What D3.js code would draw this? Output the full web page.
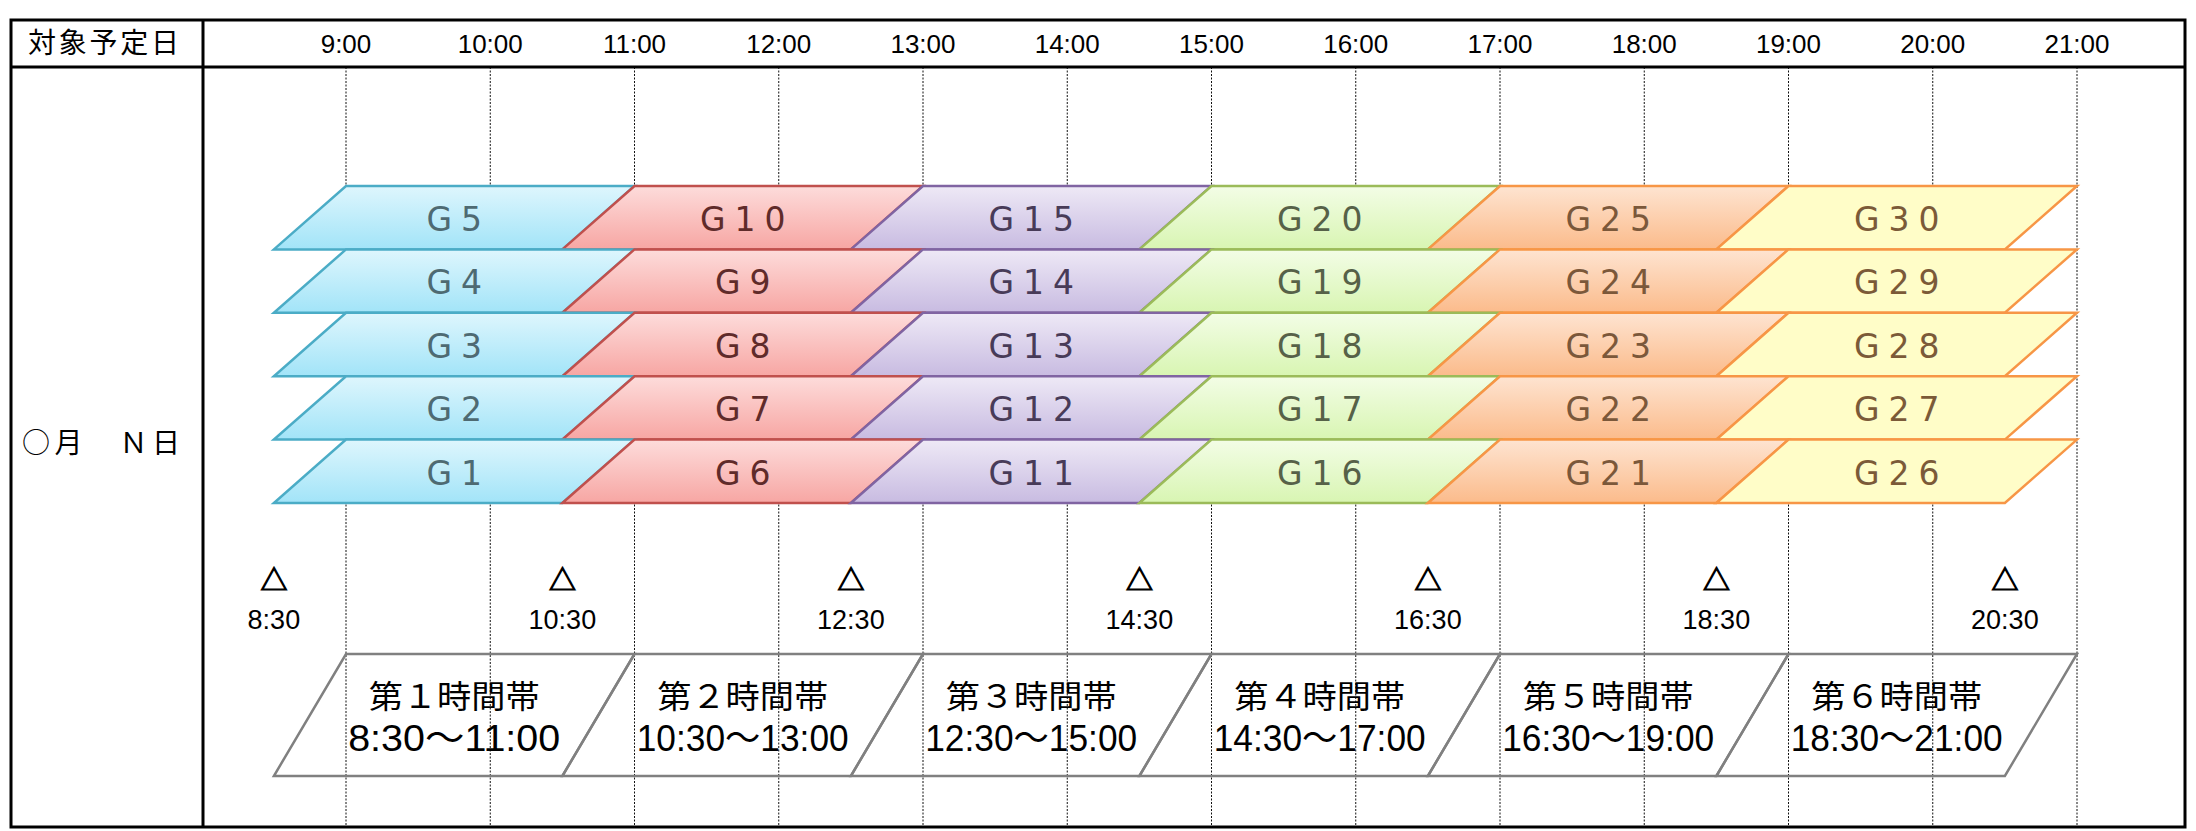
<!DOCTYPE html>
<html>
<head>
<meta charset="utf-8">
<script src="https://cdn.jsdelivr.net/npm/d3@7"></script>
<style>
  body { margin: 0; background: #fff; }
  svg { display: block; }
</style>
</head>
<body>
<div id="chart"></div>
<script>
// data
const hourTicks = [9, 10, 11, 12, 13, 14, 15, 16, 17, 18, 19, 20, 21]
const hourLabels = ["9:00", "10:00", "11:00", "12:00", "13:00", "14:00", "15:00", "16:00", "17:00", "18:00", "19:00", "20:00", "21:00"]
const slotStart = [8.5, 10.5, 12.5, 14.5, 16.5, 18.5]
const slotEnd = [11, 13, 15, 17, 19, 21]
const slotTitles = ["第１時間帯", "第２時間帯", "第３時間帯", "第４時間帯", "第５時間帯", "第６時間帯"]
const slotRanges = ["8:30～11:00", "10:30～13:00", "12:30～15:00", "14:30～17:00", "16:30～19:00", "18:30～21:00"]
const markTimes = [8.5, 10.5, 12.5, 14.5, 16.5, 18.5, 20.5]
const markLabels = ["8:30", "10:30", "12:30", "14:30", "16:30", "18:30", "20:30"]
const rows = [5, 4, 3, 2, 1]
const groupLabels = [
  ["G1", "G2", "G3", "G4", "G5"],
  ["G6", "G7", "G8", "G9", "G10"],
  ["G11", "G12", "G13", "G14", "G15"],
  ["G16", "G17", "G18", "G19", "G20"],
  ["G21", "G22", "G23", "G24", "G25"],
  ["G26", "G27", "G28", "G29", "G30"]
]
const headerText = "対象予定日"
const dateText = "○月　Ｎ日"

// styles for each slot
const palette = [
  {top: "#def6fd", bottom: "#a2e4f8", stroke: "#4bacc6", text: "#4e6a72"},
  {top: "#fddcdb", bottom: "#f7a6a3", stroke: "#c0504d", text: "#5f2b2a"},
  {top: "#eee9f6", bottom: "#c8bbe1", stroke: "#8064a2", text: "#483b58"},
  {top: "#f3fde6", bottom: "#d8f5b2", stroke: "#9bbb59", text: "#566148"},
  {top: "#fee4d1", bottom: "#fbbb8b", stroke: "#f79646", text: "#7b583a"},
  {top: "#fffdc8", bottom: "#fffdc8", stroke: "#f79646", text: "#7b5a38"}
]

const width = 2196
const height = 831
const frame = {left: 11, right: 2185, top: 20, bottom: 827}
const colX = 203
const headY = 67

const x = d3.scaleLinear().domain([9, 21]).range([346, 2077])
const y = d3.scaleBand().domain(rows).range([186, 503])
const bandTop = 654
const bandBottom = 776

const svg = d3.select("#chart").append("svg")
  .attr("width", width)
  .attr("height", height)

const defs = svg.append("defs")
palette.forEach((p, i) => {
  const g = defs.append("linearGradient")
    .attr("id", "grad" + i)
    .attr("x1", 0).attr("y1", 0).attr("x2", 0).attr("y2", 1)
  g.append("stop").attr("offset", "0%").attr("stop-color", p.top)
  g.append("stop").attr("offset", "100%").attr("stop-color", p.bottom)
})

// dotted hour lines
svg.append("g")
  .selectAll("line")
  .data(hourTicks)
  .join("line")
  .attr("x1", d => x(d)).attr("x2", d => x(d))
  .attr("y1", headY).attr("y2", frame.bottom)
  .attr("stroke", "#111")
  .attr("stroke-width", 1)
  .attr("stroke-dasharray", "2,1.5")

// hour labels
svg.append("g")
  .selectAll("text")
  .data(hourTicks)
  .join("text")
  .attr("x", d => x(d))
  .attr("y", 53)
  .attr("text-anchor", "middle")
  .attr("font-family", "Liberation Sans, Arial, sans-serif")
  .attr("font-size", 26)
  .text((d, i) => hourLabels[i])

function para(s, e, y0, y1) {
  return `M${x(s)},${y1} L${x(e - 0.5)},${y1} L${x(e)},${y0} L${x(s + 0.5)},${y0} Z`
}

// group parallelograms, top row first
const cells = []
rows.forEach(r => {
  slotStart.forEach((s, i) => {
    cells.push({slot: i, row: r, start: s, end: slotEnd[i], label: groupLabels[i][r - 1]})
  })
})

const cell = svg.append("g")
  .selectAll("g")
  .data(cells)
  .join("g")

cell.append("path")
  .attr("d", d => para(d.start, d.end, y(d.row), y(d.row) + y.bandwidth()))
  .attr("fill", d => `url(#grad${d.slot})`)
  .attr("stroke", d => palette[d.slot].stroke)
  .attr("stroke-width", 2.5)
  .attr("stroke-linejoin", "miter")

const ls = 9
cell.append("text")
  .attr("x", d => x(d.start + 1.25) + ls / 2)
  .attr("y", d => y(d.row) + 45)
  .attr("text-anchor", "middle")
  .attr("font-family", "DejaVu Sans, Verdana, sans-serif")
  .attr("font-size", 33)
  .attr("letter-spacing", ls)
  .attr("fill", d => palette[d.slot].text)
  .text(d => d.label)

// start marks
const mark = svg.append("g")
  .selectAll("g")
  .data(markTimes)
  .join("g")
mark.append("text")
  .attr("x", d => x(d))
  .attr("y", 590)
  .attr("text-anchor", "middle")
  .attr("font-family", "Noto Sans CJK JP, sans-serif")
  .attr("font-size", 27)
  .attr("stroke", "#000")
  .attr("stroke-width", 1.2)
  .text("△")
mark.append("text")
  .attr("x", d => x(d))
  .attr("y", 629)
  .attr("text-anchor", "middle")
  .attr("font-family", "Liberation Sans, Arial, sans-serif")
  .attr("font-size", 27)
  .text((d, i) => markLabels[i])

// time bands
const band = svg.append("g")
  .selectAll("g")
  .data(slotStart)
  .join("g")
band.append("path")
  .attr("d", (d, i) => para(d, slotEnd[i], bandTop, bandBottom))
  .attr("fill", "none")
  .attr("stroke", "#808080")
  .attr("stroke-width", 2.5)
band.append("text")
  .attr("x", d => x(d + 1.25))
  .attr("y", 708)
  .attr("text-anchor", "middle")
  .attr("font-family", "Noto Sans CJK JP, sans-serif")
  .attr("font-size", 32)
  .attr("textLength", 171)
  .attr("lengthAdjust", "spacingAndGlyphs")
  .text((d, i) => slotTitles[i])
band.append("text")
  .attr("x", d => x(d + 1.25))
  .attr("y", 751)
  .attr("text-anchor", "middle")
  .attr("font-family", "Liberation Sans, Arial, Noto Sans CJK JP, sans-serif")
  .attr("font-size", 36)
  .attr("textLength", 212)
  .attr("lengthAdjust", "spacingAndGlyphs")
  .text((d, i) => slotRanges[i])

// left column texts
svg.append("text")
  .attr("x", 28)
  .attr("y", 53)
  .attr("font-family", "Noto Sans CJK JP, sans-serif")
  .attr("font-size", 28)
  .attr("textLength", 151)
  .attr("lengthAdjust", "spacing")
  .text(headerText)
svg.append("text")
  .attr("x", 22)
  .attr("y", 453)
  .attr("font-family", "Noto Sans CJK JP, sans-serif")
  .attr("font-size", 28)
  .attr("textLength", 158)
  .attr("lengthAdjust", "spacing")
  .text(dateText)

// frame
const border = svg.append("g")
  .attr("stroke", "#000")
  .attr("stroke-width", 3)
  .attr("fill", "none")
border.append("rect")
  .attr("x", frame.left).attr("y", frame.top)
  .attr("width", frame.right - frame.left)
  .attr("height", frame.bottom - frame.top)
border.append("line")
  .attr("x1", frame.left).attr("x2", frame.right)
  .attr("y1", headY).attr("y2", headY)
border.append("line")
  .attr("x1", colX).attr("x2", colX)
  .attr("y1", frame.top).attr("y2", frame.bottom)
</script>
</body>
</html>
